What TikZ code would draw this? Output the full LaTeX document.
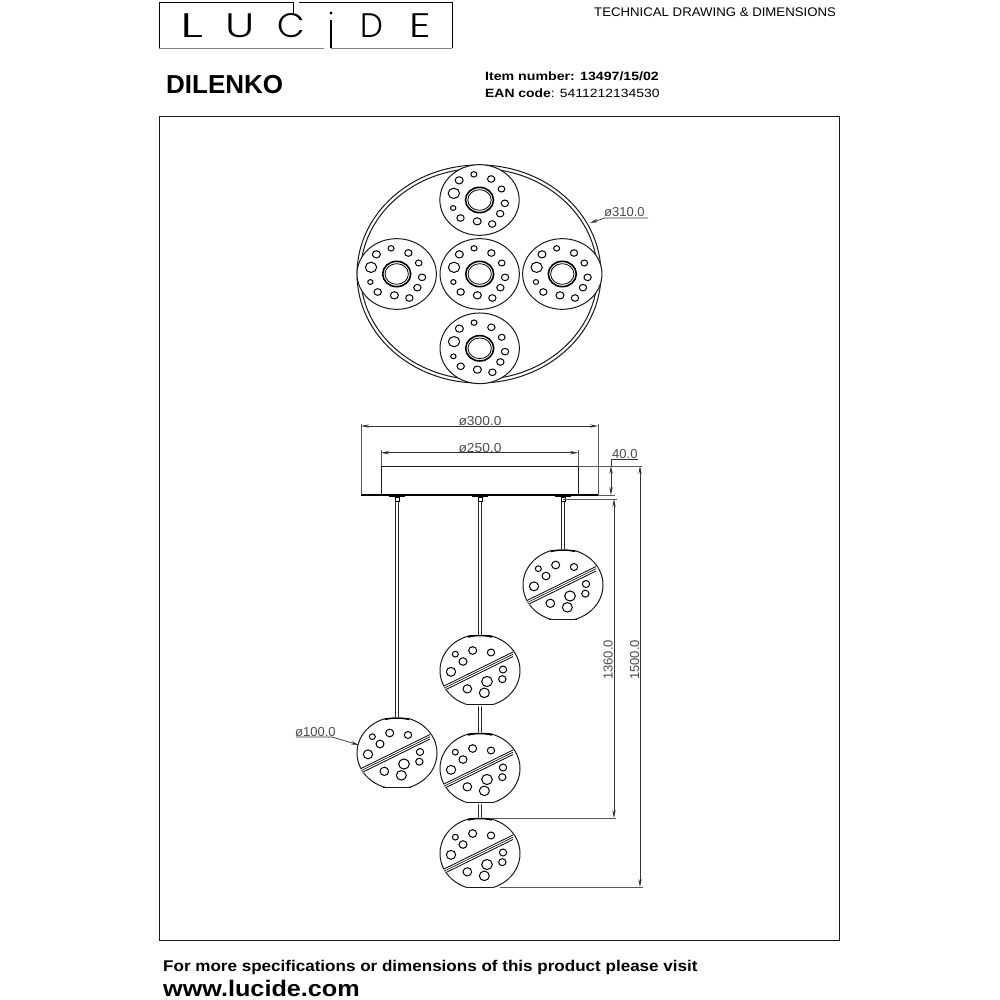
\documentclass[tikz,border=0pt]{standalone}
\usepackage{fontspec}
\setmainfont{Liberation Sans}
\newfontfamily\logofont[UprightFont=* Light]{Poppins}
\usetikzlibrary{arrows.meta}
\newcommand{\wider}[2]{\scalebox{#1}[1]{#2}}
\tikzset{
  ln/.style={line width=1pt,black!90},
  ext/.style={line width=0.8pt,black!65},
  dimar/.style={line width=0.7pt,black!80,{Stealth[length=8pt,width=3.4pt]}-{Stealth[length=8pt,width=3.4pt]}},
  ldr/.style={line width=0.7pt,black!80,{Stealth[length=8pt,width=3.4pt]}-},
  dimtxt/.style={inner sep=0pt,black!70,font=\fontsize{13}{13}\selectfont},
  txt/.style={inner sep=0pt,anchor=base west,black},
  logol/.style={inner sep=0pt,anchor=base,font=\logofont\fontsize{34}{34}\selectfont},
  stemline/.style={line width=0.8pt,draw=black!85,fill=white},
  disc/.pic={
    \begin{scope}[scale=1/3]
      \draw[ln,fill=white] (0,0) ellipse[x radius=119pt,y radius=106pt];
      \foreach \hx/\hy/\hr in {-61/-59/12,-17/-77/9,35/-63/11,66/-33/10,76/10/11,62/41/11,38/72/11,-7/64/12,-57/54/11,-79/24/8,-77/-20/17}
        \draw[line width=1pt] (\hx,\hy) ellipse[x radius=\hr pt,y radius=0.9*\hr pt];
      \draw[line width=1.6pt] (0,0) ellipse[x radius=42pt,y radius=38pt];
      \draw[line width=0.8pt] (0,0) ellipse[x radius=35pt,y radius=31pt];
    \end{scope}
  },
  ball/.pic={
    \begin{scope}
      \path[fill=white] (0,0) ellipse[x radius=40pt,y radius=36pt];
      \begin{scope}
        \clip (-41,-35) rectangle (41,34);
        \draw[ln] (0,0) ellipse[x radius=40pt,y radius=36pt];
      \end{scope}
      \draw[ln] (-14,34) -- (14,34);
      \draw[line width=1.5pt] (-12,-33.5) .. controls (-5,-35.5) and (5,-35.5) .. (12,-33.5);
      \begin{scope}
        \clip (0,0) ellipse[x radius=40pt,y radius=36pt];
        \fill[white] (-36,15) -- (33,-19) -- (33,-13) -- (-36,21) -- cycle;
        \draw[line width=0.8pt] (-36,15.5) -- (33,-18.5);
        \draw[line width=0.6pt] (-36,17.7) -- (33,-16.3);
        \draw[line width=0.8pt] (-36,20) -- (33,-14);
      \end{scope}
      \begin{scope}[scale=1/3]
        \foreach \hx/\hy/\hr in {-74/-49/9,-22/-60/12,33/-54/11,-51/-27/12,-87/4/14,69/-3/11,67/26/11,21/33/16,-38/55/13,13/67/15}
          \draw[line width=1pt] (\hx,\hy) ellipse[x radius=\hr pt,y radius=0.95*\hr pt];
      \end{scope}
    \end{scope}
  },
  mount/.pic={
    \fill (-8,-1) rectangle (8,0.8);
    \draw[line width=0.6pt,fill=white] (-2,0.8) rectangle (2,5);
  }
}
\begin{document}
\begin{tikzpicture}[x=1pt,y=-1pt]
\useasboundingbox[fill=white] (0,0) rectangle (1000,1000);

% logo
\draw[line width=1pt] (159,48) -- (159,3) -- (293,3) -- (293,13);
\draw[line width=1pt] (299,3) -- (452,3) -- (452,48);
\draw[line width=0.8pt,black!50] (159,48) -- (324,48);
\draw[line width=0.8pt,black!50] (331,48) -- (452,48);
\draw[line width=1.2pt] (331,20) -- (331,48);
\fill (331,13) circle[radius=1.6pt];
\node[logol] (lL) at (192,38) {\wider{1.6}{L}};
\node[logol] (lU) at (240,38) {\wider{1.3}{U}};
\node[logol] (lC) at (291,38) {\wider{1.05}{C}};
\node[logol] (lD) at (372,38) {\wider{0.95}{D}};
\node[logol] (lE) at (420,38) {\wider{1.25}{E}};

\node[txt,font=\fontsize{12.5}{12.5}\selectfont] (tech) at (594,17) {\wider{1.057}{TECHNICAL DRAWING \& DIMENSIONS}};
\node[txt,font=\bfseries\fontsize{26}{26}\selectfont] (title) at (166,94) {DILENKO};
\node[txt,font=\bfseries\fontsize{12}{12}\selectfont] (item) at (485,81) {\wider{1.18}{Item number: 13497/15/02}};
\node[txt,font=\fontsize{12}{12}\selectfont] (ean) at (485,98) {\wider{1.16}{\textbf{EAN code}: 5411212134530}};

% frame
\draw[line width=1pt,black!90] (159,117) rectangle (839,940);

% plan view
\draw[ln] (479,274) ellipse[x radius=122pt,y radius=109pt];
\draw[ln] (479,274) ellipse[x radius=118.5pt,y radius=105.5pt];
\pic at (479.5,200) {disc};
\pic at (396.7,274) {disc};
\pic at (479.7,274) {disc};
\pic at (562.3,274) {disc};
\pic at (479.7,348.3) {disc};

\coordinate (p310a) at (590,223);
\coordinate (p310b) at (605,218);
\coordinate (p310c) at (648,218);
\draw[ldr] (p310a) -- (p310b) -- (p310c);
\node[dimtxt,anchor=base west] (d310) at (604,217) {ø310.0};

% canopy
\draw[ln] (381,466) -- (578,466);
\draw[ln] (381,466) -- (381,495);
\draw[ln] (578,466) -- (578,495);
\draw[line width=1.3pt] (361,495) -- (598,495);

% stems
\draw[stemline] (395.8,498) rectangle (398.2,720);
\draw[stemline] (478.8,498) rectangle (481.2,638);
\draw[stemline] (561.8,498) rectangle (564.2,552);
\draw[stemline] (478.8,703) rectangle (481.2,736);
\draw[stemline] (478.8,801) rectangle (481.2,821);
\pic at (397,496) {mount};
\pic at (480,496) {mount};
\pic at (563,496) {mount};

% balls
\pic at (563,585) {ball};
\pic at (480,670.5) {ball};
\pic at (397,753) {ball};
\pic at (480,768.5) {ball};
\pic at (480,853.5) {ball};

% dimensions
\draw[ext] (361,424) -- (361,495);
\draw[ext] (598,424) -- (598,495);
\draw[ext] (381,450) -- (381,466);
\draw[ext] (578,450) -- (578,466);
\draw[dimar] (361,426) -- (598,426);
\draw[dimar] (381,452.7) -- (578,452.7);
\node[dimtxt,anchor=base] (d300) at (480,425) {\wider{1.06}{ø300.0}};
\node[dimtxt,anchor=base] (d250) at (480,452) {\wider{1.06}{ø250.0}};

\draw[ext] (578,466) -- (642,466);
\draw[ext] (598,495) -- (615,495);
\draw[ext] (563,499) -- (617,499);
\draw[ext] (490,818) -- (616,818);
\draw[ext] (500,887) -- (643,887);
\draw[line width=0.7pt,black!80] (611,466) -- (611,459) -- (638,459);
\draw[dimar] (611,466) -- (611,495);
\node[dimtxt,anchor=base west] (d40) at (612,458) {40.0};
\draw[dimar] (614,499) -- (614,818);
\draw[dimar] (640,466) -- (640,887);
\node[dimtxt,rotate=90,anchor=base] (d1360) at (612.5,660) {1360.0};
\node[dimtxt,rotate=90,anchor=base] (d1500) at (639,660) {1500.0};

\coordinate (p100a) at (359,745);
\coordinate (p100b) at (332,737);
\coordinate (p100c) at (296,737);
\draw[ldr] (p100a) -- (p100b) -- (p100c);
\node[dimtxt,anchor=base west] (d100) at (295,736) {ø100.0};

% footer
\node[txt,font=\bfseries\fontsize{15.5}{15.5}\selectfont] (foot) at (163,971.5) {\wider{1.1}{For more specifications or dimensions of this product please visit}};
\node[txt,font=\bfseries\fontsize{22.5}{22.5}\selectfont] (www) at (163,996.5) {\wider{1.12}{www.lucide.com}};
\end{tikzpicture}
\end{document}
